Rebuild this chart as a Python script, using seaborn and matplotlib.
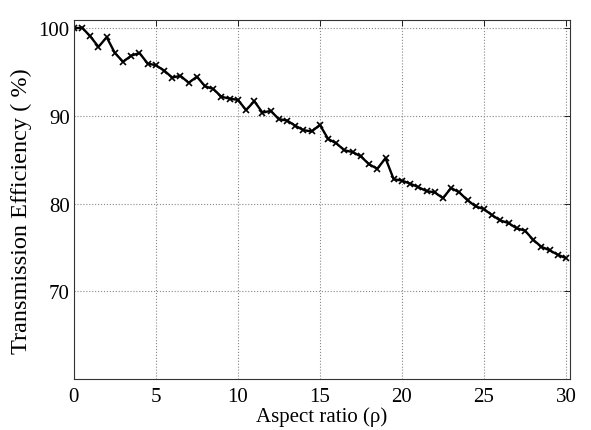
import matplotlib
matplotlib.use("Agg")
import matplotlib.pyplot as plt
import seaborn as sns
import pandas as pd

aspect_ratio = [i * 0.5 for i in range(61)]
efficiency = [
    100.0, 100.1, 99.1, 97.9, 99.0, 97.2, 96.2, 96.9, 97.2, 96.0,
    95.8, 95.2, 94.4, 94.6, 93.8, 94.5, 93.4, 93.1, 92.2, 92.0,
    91.85, 90.7, 91.7, 90.4, 90.6, 89.65, 89.5, 88.9, 88.4, 88.25,
    89.0, 87.4, 86.9, 86.1, 85.9, 85.4, 84.5, 84.0, 85.2, 82.8,
    82.65, 82.3, 81.9, 81.45, 81.3, 80.65, 81.8, 81.3, 80.4, 79.7,
    79.4, 78.7, 78.1, 77.8, 77.2, 76.95, 75.9, 75.1, 74.7, 74.2,
    73.8,
]
x_ticks = [0, 5, 10, 15, 20, 25, 30]
y_ticks = [70, 80, 90, 100]

df = pd.DataFrame({"rho": aspect_ratio, "eff": efficiency})

sns.set_style("white")
plt.rcParams["font.family"] = ["Liberation Serif", "DejaVu Serif"]
plt.rcParams["text.color"] = "black"
plt.rcParams["axes.labelcolor"] = "black"

fig = plt.figure(figsize=(5.91, 4.31), dpi=100)
ax = fig.add_axes([0.125, 0.118, 0.8395, 0.834])

sns.lineplot(data=df, x="rho", y="eff", ax=ax, color="black", linewidth=1.7,
             marker="x", markersize=4, markeredgewidth=1.2, markeredgecolor="black")

ax.set_xlim(0, 30.25)
ax.set_ylim(60, 101)
ax.set_xticks(x_ticks)
ax.set_yticks(y_ticks)
ax.grid(True, linestyle=":", color="#888888", linewidth=0.8)
ax.tick_params(direction="in", top=True, right=True, length=4, width=0.6,
               labelsize=15, colors="black", labelcolor="black")
ax.tick_params(axis="y", pad=3)
ax.tick_params(axis="x", pad=6)
for s in ax.spines.values():
    s.set_color("#333333")
    s.set_linewidth(0.8)

ax.set_xlabel("Aspect ratio (ρ)", fontsize=15, labelpad=0, color="black")
ax.set_ylabel("Transmission Efficiency ( %)", fontsize=17.5, color="black")
ax.yaxis.set_label_coords(-0.085, 0.47)

fig.savefig("out.png", dpi=100)
